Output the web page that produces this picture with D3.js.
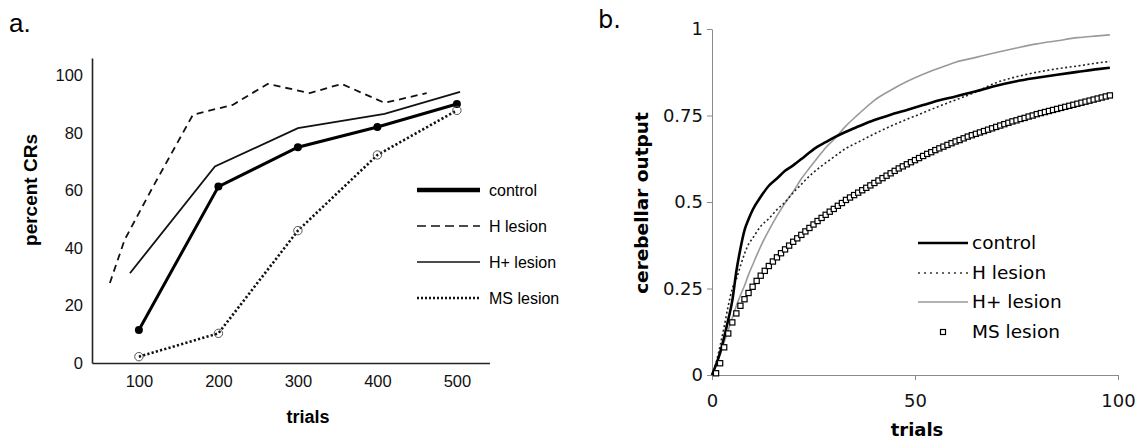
<!DOCTYPE html>
<html><head><meta charset="utf-8">
<script src="https://cdn.jsdelivr.net/npm/d3@7"></script>
<style>body{margin:0;background:#fff}</style>
</head><body><svg id="c" width="1136" height="440" xmlns="http://www.w3.org/2000/svg"></svg>
<script>
// ---------- Panel a data ----------
const aTickValuesX = [100, 200, 300, 400, 500];
const aTickValuesY = [0, 20, 40, 60, 80, 100];
const aTrials = [100, 200, 300, 400, 500];
const aControl = [11.5, 61.3, 75, 82, 90];
const aMS = [2.2, 10.3, 46, 72.3, 87.8];
const aHTrials = [63.5, 82, 117.6, 168, 218, 262, 315, 355, 409, 462];
const aHLesion = [27.8, 42.8, 61.2, 86.3, 89.7, 97, 93.8, 97, 90.4, 93.8];
const aHpTrials = [88.7, 195.6, 300, 409, 504];
const aHPlus = [31.2, 68.3, 81.6, 86.6, 94.2];
const aLegend = ["control", "H lesion", "H+ lesion", "MS lesion"];

// ---------- Panel b data ----------
const bTickValuesX = [0, 50, 100];
const bTickValuesY = [0, 0.25, 0.5, 0.75, 1];
const bTrials = [0,1,2,3,4,5,6,7,8,9,10,12,14,16,18,20,22,24,26,28,30,33,36,40,44,48,52,56,60,65,70,75,80,85,90,95,98];
const bControl = [0,0.03,0.065,0.11,0.16,0.215,0.3,0.365,0.418,0.45,0.477,0.515,0.547,0.568,0.59,0.606,0.624,0.643,0.66,0.673,0.686,0.703,0.718,0.737,0.752,0.766,0.78,0.794,0.805,0.82,0.836,0.849,0.859,0.868,0.876,0.884,0.888];
const bHLesion = [0,0.035,0.085,0.14,0.2,0.25,0.277,0.315,0.35,0.378,0.395,0.43,0.452,0.478,0.5,0.527,0.551,0.575,0.595,0.613,0.63,0.655,0.673,0.697,0.719,0.739,0.758,0.777,0.795,0.818,0.845,0.862,0.875,0.885,0.893,0.902,0.906];
const bHPlus = [0,0.03,0.06,0.095,0.13,0.165,0.2,0.23,0.258,0.29,0.318,0.372,0.418,0.46,0.497,0.53,0.567,0.598,0.628,0.657,0.68,0.72,0.753,0.794,0.823,0.848,0.869,0.887,0.904,0.918,0.932,0.945,0.957,0.966,0.975,0.98,0.983];
const bMS = [0.005,0.034,0.08,0.12,0.152,0.178,0.2,0.219,0.237,0.255,
  0.272,0.287,0.301,0.315,0.328,0.34,0.352,0.363,0.374,0.385,
  0.395,0.405,0.415,0.425,0.435,0.445,0.454,0.463,0.472,0.48,
  0.489,0.497,0.506,0.513,0.52,0.527,0.534,0.541,0.548,0.555,
  0.562,0.569,0.576,0.583,0.59,0.597,0.603,0.609,0.615,0.621,
  0.627,0.633,0.639,0.644,0.65,0.655,0.66,0.665,0.67,0.675,
  0.679,0.684,0.689,0.693,0.697,0.701,0.705,0.709,0.713,0.717,
  0.721,0.725,0.729,0.733,0.736,0.74,0.743,0.747,0.75,0.754,
  0.757,0.76,0.763,0.766,0.769,0.772,0.775,0.778,0.781,0.784,
  0.787,0.79,0.793,0.796,0.799,0.802,0.805,0.808];
const bLegend = ["control", "H lesion", "H+ lesion", "MS lesion"];

const svg = d3.select("#c");

// ================= Panel a =================
const fa = "'Liberation Sans', Arial, sans-serif";
const xa = d3.scaleLinear().domain([41, 541]).range([92, 489.5]);
const ya = d3.scaleLinear().domain([0, 106]).range([363, 58]);
const ga = svg.append("g");

ga.append("text").attr("x", 9).attr("y", 32).attr("font-family", fa).attr("font-size", 26).text("a.");

const axA = ga.append("g").attr("transform", "translate(0,363)")
  .call(d3.axisBottom(xa).tickValues(aTickValuesX).tickSize(0).tickPadding(12).tickSizeOuter(0));
const ayA = ga.append("g").attr("transform", "translate(92,0)")
  .call(d3.axisLeft(ya).tickValues(aTickValuesY).tickSize(0).tickPadding(9).tickSizeOuter(0));
[axA, ayA].forEach(a => {
  a.select(".domain").attr("stroke", "#222").attr("stroke-width", 1.6);
  a.selectAll("text").attr("font-family", fa).attr("font-size", 16.5).attr("fill", "#111");
});

ga.append("text").attr("transform", "translate(37,190) rotate(-90)")
  .attr("text-anchor", "middle").attr("font-family", fa).attr("font-weight", "bold")
  .attr("font-size", 19).text("percent CRs");
ga.append("text").attr("x", 308).attr("y", 423).attr("text-anchor", "middle")
  .attr("font-family", fa).attr("font-weight", "bold").attr("font-size", 18).text("trials");

const lineA = d3.line().x(d => xa(d[0])).y(d => ya(d[1]));
const styleA = [
  {w: 3, dash: null, c: "#000"},
  {w: 1.8, dash: "7,5", c: "#111"},
  {w: 1.8, dash: null, c: "#111"},
  {w: 2.6, dash: "2.2,2.2", c: "#111"}
];
ga.append("path").datum(d3.zip(aHTrials, aHLesion)).attr("d", lineA).attr("fill", "none")
  .attr("stroke", styleA[1].c).attr("stroke-width", styleA[1].w).attr("stroke-dasharray", styleA[1].dash);
ga.append("path").datum(d3.zip(aHpTrials, aHPlus)).attr("d", lineA).attr("fill", "none")
  .attr("stroke", styleA[2].c).attr("stroke-width", styleA[2].w);
ga.append("path").datum(d3.zip(aTrials, aMS)).attr("d", lineA).attr("fill", "none")
  .attr("stroke", styleA[3].c).attr("stroke-width", styleA[3].w).attr("stroke-dasharray", styleA[3].dash);
ga.append("path").datum(d3.zip(aTrials, aControl)).attr("d", lineA).attr("fill", "none")
  .attr("stroke", styleA[0].c).attr("stroke-width", styleA[0].w);
ga.selectAll(".cdot").data(d3.zip(aTrials, aControl)).join("circle")
  .attr("cx", d => xa(d[0])).attr("cy", d => ya(d[1])).attr("r", 4).attr("fill", "#000");
ga.selectAll(".mdot").data(d3.zip(aTrials, aMS)).join("circle")
  .attr("cx", d => xa(d[0])).attr("cy", d => ya(d[1])).attr("r", 4.2)
  .attr("fill", "none").attr("stroke", "#555").attr("stroke-width", 1);

const legA = ga.append("g");
aLegend.forEach((name, i) => {
  const y = 190 + i * 36;
  const s = styleA[i];
  legA.append("line").attr("x1", 417).attr("x2", 480).attr("y1", y).attr("y2", y)
    .attr("stroke", s.c).attr("stroke-width", i === 0 ? 4.5 : (i === 3 ? 2.4 : 1.6))
    .attr("stroke-dasharray", i === 1 ? "9,5" : (i === 3 ? "2,2" : null));
  legA.append("text").attr("x", 489).attr("y", y).attr("dy", "0.35em")
    .attr("font-family", fa).attr("font-size", 16).text(name);
});

// ================= Panel b =================
const fb = "'DejaVu Sans', Verdana, sans-serif";
const xb = d3.scaleLinear().domain([0, 100]).range([712, 1118]);
const yb = d3.scaleLinear().domain([0, 1]).range([375, 29]);
const gb = svg.append("g");

gb.append("text").attr("x", 598).attr("y", 28).attr("font-family", fb).attr("font-size", 24).text("b.");

const axB = gb.append("g").attr("transform", "translate(0,375)")
  .call(d3.axisBottom(xb).tickValues(bTickValuesX).tickSize(5).tickPadding(14).tickSizeOuter(0));
const ayB = gb.append("g").attr("transform", "translate(712,0)")
  .call(d3.axisLeft(yb).tickValues(bTickValuesY).tickFormat(d => String(d)).tickSize(5).tickPadding(4).tickSizeOuter(0));
[axB, ayB].forEach(a => {
  a.select(".domain").attr("stroke", "#8a8a8a").attr("stroke-width", 1);
  a.selectAll(".tick line").attr("stroke", "#8a8a8a");
  a.selectAll("text").attr("font-family", fb).attr("font-size", 18).attr("fill", "#111");
});

gb.append("text").attr("transform", "translate(648,203) rotate(-90)")
  .attr("text-anchor", "middle").attr("font-family", fb).attr("font-weight", "bold")
  .attr("font-size", 18.5).text("cerebellar output");
gb.append("text").attr("x", 917).attr("y", 436).attr("text-anchor", "middle")
  .attr("font-family", fb).attr("font-weight", "bold").attr("font-size", 18).text("trials");

const lineB = d3.line().x(d => xb(d[0])).y(d => yb(d[1])).curve(d3.curveMonotoneX);
gb.append("path").datum(d3.zip(bTrials, bHPlus)).attr("d", lineB).attr("fill", "none")
  .attr("stroke", "#9a9a9a").attr("stroke-width", 1.6);
gb.append("path").datum(d3.zip(bTrials, bHLesion)).attr("d", lineB).attr("fill", "none")
  .attr("stroke", "#222").attr("stroke-width", 1.6).attr("stroke-dasharray", "2,2.5");
gb.append("path").datum(d3.zip(bTrials, bControl)).attr("d", lineB).attr("fill", "none")
  .attr("stroke", "#000").attr("stroke-width", 2.6);
const sq = 5.2;
gb.selectAll(".sq").data(bMS.map((v, i) => [i + 1, v])).join("rect")
  .attr("x", d => xb(d[0]) - sq / 2).attr("y", d => yb(d[1]) - sq / 2)
  .attr("width", sq).attr("height", sq)
  .attr("fill", "#fff").attr("stroke", "#000").attr("stroke-width", 1.2);

const legB = gb.append("g");
const legBy = [243, 273, 302, 332];
bLegend.forEach((name, i) => {
  const y = legBy[i];
  if (i === 0) legB.append("line").attr("x1", 918).attr("x2", 968).attr("y1", y).attr("y2", y).attr("stroke", "#000").attr("stroke-width", 2.6);
  if (i === 1) legB.append("line").attr("x1", 918).attr("x2", 968).attr("y1", y).attr("y2", y).attr("stroke", "#333").attr("stroke-width", 1.3).attr("stroke-dasharray", "2,4");
  if (i === 2) legB.append("line").attr("x1", 918).attr("x2", 968).attr("y1", y).attr("y2", y).attr("stroke", "#9a9a9a").attr("stroke-width", 1.6);
  if (i === 3) legB.append("rect").attr("x", 943 - 2.5).attr("y", y - 2.5).attr("width", 5).attr("height", 5).attr("fill", "#fff").attr("stroke", "#000").attr("stroke-width", 1.2);
  legB.append("text").attr("x", 972).attr("y", y).attr("dy", "0.35em")
    .attr("font-family", fb).attr("font-size", 18.5).text(name);
});
</script>
</body></html>
